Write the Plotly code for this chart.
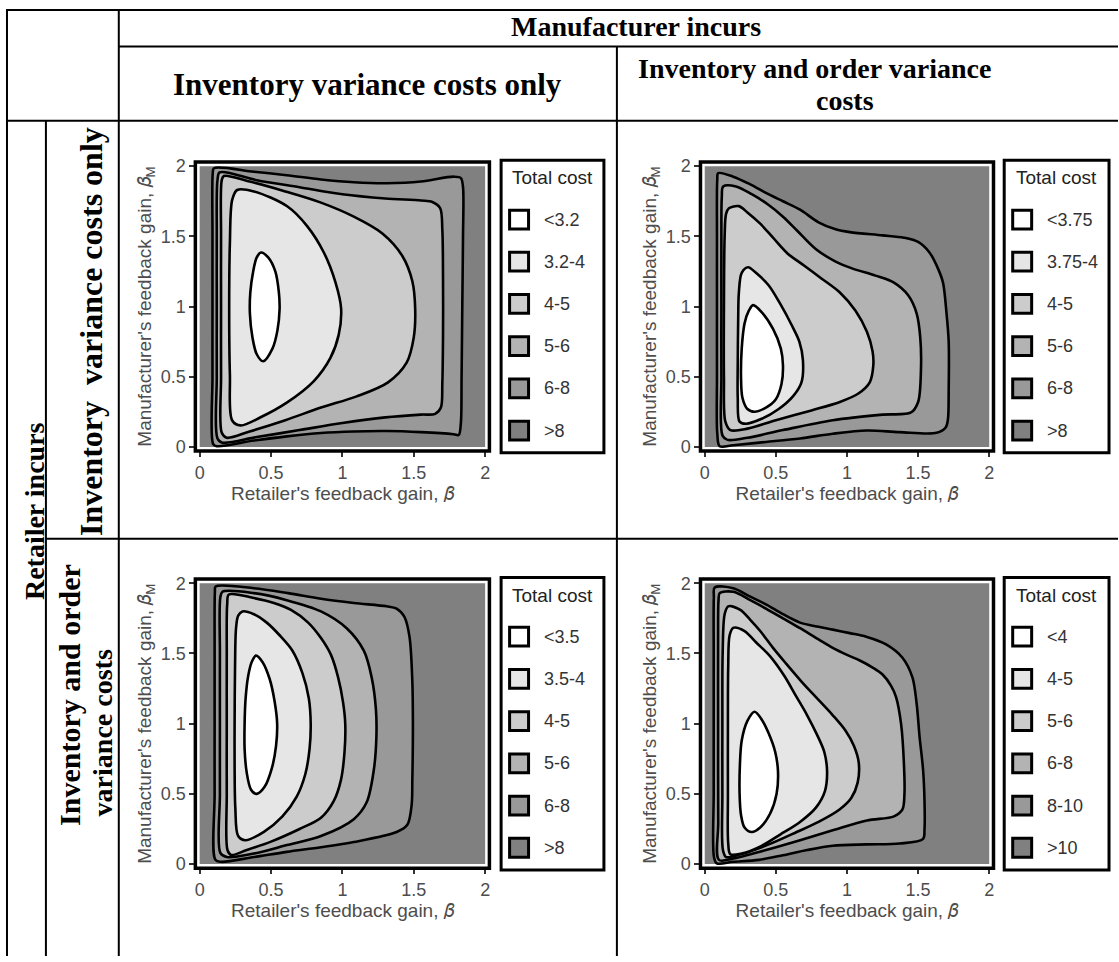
import plotly.graph_objects as go

W, H = 1119, 962

# ---------------- data ----------------
LEVEL_COLORS = ['#ffffff', '#e6e6e6', '#cccccc', '#b3b3b3', '#999999', '#808080']
TICKS = [0, 0.5, 1, 1.5, 2]
LEGEND_TITLE = 'Total cost'

# stable region of the two feedback gains (outermost cost band)
DOMAIN_X = [0, 2, 2, 0, 0]
DOMAIN_Y = [0, 0, 2, 2, 0]

P1_LABELS = ['&lt;3.2', '3.2-4', '4-5', '5-6', '6-8', '&gt;8']
P2_LABELS = ['&lt;3.75', '3.75-4', '4-5', '5-6', '6-8', '&gt;8']
P3_LABELS = ['&lt;3.5', '3.5-4', '4-5', '5-6', '6-8', '&gt;8']
P4_LABELS = ['&lt;4', '4-5', '5-6', '6-8', '8-10', '&gt;10']

# Panel 1 (retailer: inventory only, manufacturer: inventory only), contours innermost first
p1_l1_x = [0.43, 0.48, 0.53, 0.555, 0.56, 0.545, 0.51, 0.445, 0.40, 0.37, 0.352, 0.355, 0.375, 0.40, 0.43]
p1_l1_y = [1.385, 1.35, 1.25, 1.10, 0.98, 0.83, 0.70, 0.61, 0.66, 0.78, 0.95, 1.10, 1.25, 1.35, 1.385]
p1_l2_x = [0.263, 0.38, 0.613, 0.753, 0.87, 0.951, 0.991, 0.974, 0.916, 0.80, 0.613, 0.427, 0.287, 0.228, 0.212, 0.207, 0.212, 0.228, 0.263]
p1_l2_y = [1.83, 1.82, 1.714, 1.573, 1.385, 1.174, 0.986, 0.798, 0.634, 0.469, 0.317, 0.211, 0.153, 0.188, 0.516, 0.986, 1.455, 1.76, 1.83]
p1_l3_x = [0.17, 0.35, 0.60, 0.85, 1.08, 1.28, 1.42, 1.49, 1.51, 1.50, 1.45, 1.32, 1.10, 0.85, 0.60, 0.35, 0.19, 0.155, 0.15, 0.15, 0.15, 0.155, 0.17]
p1_l3_y = [1.93, 1.89, 1.82, 1.74, 1.64, 1.52, 1.36, 1.18, 0.98, 0.78, 0.60, 0.46, 0.36, 0.28, 0.19, 0.11, 0.065, 0.10, 0.50, 1.00, 1.50, 1.90, 1.93]
p1_l4_x = [0.14, 0.40, 0.70, 1.00, 1.30, 1.55, 1.63, 1.685, 1.70, 1.705, 1.705, 1.70, 1.69, 1.65, 1.55, 1.30, 1.00, 0.70, 0.40, 0.16, 0.125, 0.12, 0.12, 0.12, 0.125, 0.14]
p1_l4_y = [1.955, 1.90, 1.85, 1.80, 1.77, 1.755, 1.745, 1.70, 1.55, 1.20, 0.80, 0.45, 0.28, 0.235, 0.23, 0.21, 0.17, 0.12, 0.07, 0.03, 0.06, 0.50, 1.00, 1.50, 1.90, 1.955]
p1_l5_x = [0.10, 0.38, 0.61, 0.85, 1.08, 1.31, 1.55, 1.78, 1.83, 1.845, 1.845, 1.84, 1.835, 1.83, 1.815, 1.78, 1.55, 1.31, 1.08, 0.85, 0.61, 0.38, 0.12, 0.095, 0.09, 0.09, 0.09, 0.092, 0.10]
p1_l5_y = [1.985, 1.96, 1.935, 1.905, 1.885, 1.878, 1.89, 1.925, 1.915, 1.85, 1.50, 1.00, 0.50, 0.17, 0.085, 0.09, 0.105, 0.113, 0.11, 0.099, 0.075, 0.045, 0.005, 0.02, 0.50, 1.00, 1.50, 1.95, 1.985]

# Panel 2 (retailer: inventory only, manufacturer: inventory and order)
p2_l1_x = [0.34, 0.40, 0.48, 0.535, 0.55, 0.54, 0.50, 0.43, 0.35, 0.30, 0.265, 0.255, 0.26, 0.28, 0.31, 0.34]
p2_l1_y = [1.01, 0.96, 0.84, 0.70, 0.58, 0.45, 0.34, 0.28, 0.25, 0.27, 0.35, 0.50, 0.70, 0.88, 0.97, 1.01]
p2_l2_x = [0.305, 0.36, 0.45, 0.53, 0.61, 0.665, 0.69, 0.68, 0.62, 0.52, 0.40, 0.29, 0.245, 0.232, 0.232, 0.235, 0.24, 0.26, 0.305]
p2_l2_y = [1.28, 1.24, 1.15, 1.02, 0.87, 0.75, 0.62, 0.46, 0.36, 0.27, 0.20, 0.165, 0.18, 0.35, 0.60, 0.90, 1.10, 1.24, 1.28]
p2_l3_x = [0.17, 0.24, 0.30, 0.39, 0.48, 0.58, 0.70, 0.82, 0.95, 1.06, 1.14, 1.18, 1.185, 1.16, 1.08, 0.95, 0.75, 0.50, 0.30, 0.18, 0.145, 0.135, 0.135, 0.14, 0.15, 0.17]
p2_l3_y = [1.70, 1.715, 1.67, 1.59, 1.49, 1.38, 1.29, 1.20, 1.10, 0.97, 0.82, 0.68, 0.58, 0.46, 0.38, 0.32, 0.26, 0.19, 0.13, 0.12, 0.18, 0.50, 1.00, 1.50, 1.66, 1.70]
p2_l4_x = [0.13, 0.22, 0.33, 0.44, 0.55, 0.65, 0.78, 0.92, 1.04, 1.20, 1.33, 1.43, 1.49, 1.515, 1.52, 1.50, 1.45, 1.25, 0.90, 0.55, 0.30, 0.16, 0.125, 0.117, 0.117, 0.117, 0.12, 0.13]
p2_l4_y = [1.855, 1.855, 1.80, 1.73, 1.64, 1.54, 1.41, 1.32, 1.27, 1.22, 1.17, 1.08, 0.95, 0.78, 0.55, 0.32, 0.245, 0.23, 0.19, 0.12, 0.065, 0.05, 0.08, 0.50, 1.00, 1.50, 1.78, 1.855]
p2_l5_x = [0.095, 0.20, 0.32, 0.43, 0.55, 0.67, 0.80, 0.92, 1.02, 1.25, 1.40, 1.50, 1.58, 1.64, 1.675, 1.70, 1.715, 1.715, 1.71, 1.695, 1.63, 1.37, 1.14, 0.90, 0.67, 0.43, 0.20, 0.105, 0.088, 0.086, 0.086, 0.086, 0.088, 0.095]
p2_l5_y = [1.95, 1.925, 1.87, 1.81, 1.75, 1.69, 1.60, 1.55, 1.53, 1.507, 1.49, 1.46, 1.385, 1.27, 1.17, 0.95, 0.75, 0.40, 0.20, 0.14, 0.10, 0.105, 0.117, 0.094, 0.06, 0.035, 0.012, 0.005, 0.10, 0.50, 1.00, 1.50, 1.90, 1.95]

# Panel 3 (retailer: inventory and order, manufacturer: inventory only)
p3_l1_x = [0.395, 0.44, 0.49, 0.525, 0.543, 0.535, 0.505, 0.455, 0.40, 0.36, 0.33, 0.315, 0.315, 0.322, 0.34, 0.365, 0.395]
p3_l1_y = [1.485, 1.44, 1.32, 1.16, 1.00, 0.84, 0.68, 0.55, 0.50, 0.53, 0.65, 0.82, 1.00, 1.18, 1.34, 1.44, 1.485]
p3_l2_x = [0.30, 0.38, 0.47, 0.56, 0.65, 0.72, 0.765, 0.778, 0.77, 0.74, 0.68, 0.58, 0.45, 0.32, 0.27, 0.25, 0.245, 0.245, 0.248, 0.255, 0.27, 0.30]
p3_l2_y = [1.80, 1.78, 1.72, 1.63, 1.52, 1.36, 1.18, 1.00, 0.82, 0.64, 0.48, 0.34, 0.23, 0.17, 0.20, 0.40, 0.70, 1.00, 1.40, 1.68, 1.77, 1.80]
p3_l3_x = [0.205, 0.38, 0.52, 0.64, 0.76, 0.85, 0.92, 0.97, 1.005, 1.02, 1.015, 0.99, 0.94, 0.85, 0.70, 0.50, 0.33, 0.22, 0.195, 0.19, 0.19, 0.19, 0.193, 0.205]
p3_l3_y = [1.92, 1.895, 1.86, 1.81, 1.72, 1.61, 1.49, 1.33, 1.15, 1.00, 0.80, 0.60, 0.45, 0.33, 0.25, 0.16, 0.10, 0.065, 0.10, 0.50, 1.00, 1.50, 1.85, 1.92]
p3_l4_x = [0.16, 0.38, 0.61, 0.85, 1.03, 1.15, 1.205, 1.235, 1.238, 1.22, 1.17, 1.08, 0.85, 0.61, 0.38, 0.19, 0.145, 0.142, 0.142, 0.142, 0.145, 0.16]
p3_l4_y = [1.94, 1.93, 1.88, 1.80, 1.68, 1.52, 1.33, 1.10, 0.90, 0.67, 0.44, 0.32, 0.20, 0.135, 0.075, 0.05, 0.08, 0.50, 1.00, 1.50, 1.90, 1.94]
p3_l5_x = [0.112, 0.38, 0.62, 0.85, 1.08, 1.31, 1.38, 1.435, 1.47, 1.49, 1.494, 1.49, 1.485, 1.455, 1.38, 1.08, 0.85, 0.61, 0.38, 0.15, 0.11, 0.105, 0.105, 0.105, 0.107, 0.112]
p3_l5_y = [1.977, 1.965, 1.93, 1.89, 1.86, 1.836, 1.82, 1.76, 1.62, 1.30, 1.00, 0.60, 0.42, 0.28, 0.228, 0.157, 0.12, 0.087, 0.05, 0.016, 0.03, 0.50, 1.00, 1.50, 1.94, 1.977]

# Panel 4 (retailer: inventory and order, manufacturer: inventory and order)
p4_l1_x = [0.35, 0.40, 0.45, 0.495, 0.515, 0.505, 0.46, 0.39, 0.33, 0.28, 0.255, 0.245, 0.247, 0.26, 0.30, 0.35]
p4_l1_y = [1.085, 1.03, 0.93, 0.80, 0.66, 0.50, 0.36, 0.26, 0.228, 0.26, 0.35, 0.50, 0.70, 0.88, 1.02, 1.085]
p4_l2_x = [0.20, 0.28, 0.36, 0.46, 0.56, 0.64, 0.72, 0.79, 0.84, 0.86, 0.845, 0.78, 0.67, 0.53, 0.40, 0.26, 0.18, 0.165, 0.163, 0.163, 0.165, 0.175, 0.20]
p4_l2_y = [1.683, 1.66, 1.58, 1.48, 1.34, 1.20, 1.06, 0.92, 0.80, 0.66, 0.52, 0.40, 0.30, 0.21, 0.13, 0.075, 0.07, 0.15, 0.50, 1.00, 1.40, 1.63, 1.683]
p4_l3_x = [0.165, 0.25, 0.32, 0.39, 0.48, 0.57, 0.68, 0.79, 0.90, 0.99, 1.05, 1.083, 1.075, 1.03, 0.95, 0.80, 0.65, 0.45, 0.25, 0.15, 0.128, 0.124, 0.124, 0.126, 0.14, 0.165]
p4_l3_y = [1.836, 1.81, 1.74, 1.66, 1.54, 1.43, 1.30, 1.18, 1.06, 0.95, 0.84, 0.72, 0.58, 0.47, 0.39, 0.30, 0.23, 0.14, 0.07, 0.05, 0.10, 0.50, 1.00, 1.50, 1.78, 1.836]
p4_l4_x = [0.105, 0.20, 0.32, 0.43, 0.55, 0.67, 0.80, 0.90, 1.00, 1.09, 1.18, 1.25, 1.31, 1.345, 1.38, 1.40, 1.404, 1.39, 1.33, 1.14, 0.90, 0.67, 0.43, 0.20, 0.10, 0.095, 0.094, 0.094, 0.097, 0.105]
p4_l4_y = [1.93, 1.94, 1.88, 1.82, 1.75, 1.68, 1.60, 1.54, 1.49, 1.45, 1.40, 1.35, 1.27, 1.19, 1.00, 0.72, 0.50, 0.39, 0.34, 0.31, 0.24, 0.17, 0.10, 0.04, 0.03, 0.30, 1.00, 1.60, 1.88, 1.93]
p4_l5_x = [0.07, 0.20, 0.32, 0.43, 0.55, 0.67, 0.80, 0.90, 1.02, 1.135, 1.275, 1.39, 1.46, 1.49, 1.51, 1.535, 1.545, 1.545, 1.535, 1.37, 1.14, 0.90, 0.72, 0.55, 0.38, 0.20, 0.085, 0.065, 0.063, 0.063, 0.063, 0.064, 0.07]
p4_l5_y = [1.97, 1.965, 1.905, 1.85, 1.78, 1.72, 1.69, 1.67, 1.645, 1.62, 1.565, 1.47, 1.33, 1.14, 0.91, 0.67, 0.45, 0.25, 0.18, 0.146, 0.14, 0.13, 0.10, 0.063, 0.03, 0.016, 0.005, 0.05, 0.50, 1.00, 1.50, 1.90, 1.97]

# mathematical italic beta (no markup needed)
X_TITLE = "Retailer's feedback gain, \U0001D6FD"
Y_TITLE = "Manufacturer's feedback gain, \U0001D6FD<sub>M</sub>"

# ---------------- layout helpers ----------------
def px(p):
    return p / W


def py(p):
    return 1 - p / H


SANS = 'Liberation Sans, DejaVu Sans, Arial, sans-serif'
SERIF = 'Liberation Serif, Times New Roman, serif'
RANGE = [-0.03, 2.03]

panels = [
    dict(curves=[(p1_l1_x, p1_l1_y), (p1_l2_x, p1_l2_y), (p1_l3_x, p1_l3_y), (p1_l4_x, p1_l4_y), (p1_l5_x, p1_l5_y)],
         labels=P1_LABELS, x0=199, x2=485, y2=163, y0=447, box=(501, 157, 604, 453)),
    dict(curves=[(p2_l1_x, p2_l1_y), (p2_l2_x, p2_l2_y), (p2_l3_x, p2_l3_y), (p2_l4_x, p2_l4_y), (p2_l5_x, p2_l5_y)],
         labels=P2_LABELS, x0=705, x2=990, y2=163, y0=447, box=(1005, 157, 1110, 453)),
    dict(curves=[(p3_l1_x, p3_l1_y), (p3_l2_x, p3_l2_y), (p3_l3_x, p3_l3_y), (p3_l4_x, p3_l4_y), (p3_l5_x, p3_l5_y)],
         labels=P3_LABELS, x0=199, x2=485, y2=585, y0=869, box=(501, 579, 604, 875)),
    dict(curves=[(p4_l1_x, p4_l1_y), (p4_l2_x, p4_l2_y), (p4_l3_x, p4_l3_y), (p4_l4_x, p4_l4_y), (p4_l5_x, p4_l5_y)],
         labels=P4_LABELS, x0=705, x2=990, y2=585, y0=869, box=(1005, 579, 1110, 875)),
]

fig = go.Figure()
layout = dict(width=W, height=H, margin=dict(l=0, r=0, t=0, b=0),
              paper_bgcolor='white', plot_bgcolor='white', showlegend=False,
              font=dict(family=SANS, color='#4d4d4d', size=16))
shapes = []
annotations = []

ITEM_STEP = 42.7

for i, p in enumerate(panels):
    n = i + 1
    sfx = '' if n == 1 else str(n)
    xa, ya = 'x' + sfx, 'y' + sfx
    kx = (p['x2'] - p['x0']) / 2.0
    ky = (p['y0'] - p['y2']) / 2.0
    left = p['x0'] + RANGE[0] * kx
    right = p['x0'] + RANGE[1] * kx
    top = p['y0'] - RANGE[1] * ky
    bot = p['y0'] - RANGE[0] * ky
    layout['xaxis' + sfx] = dict(
        domain=[px(left), px(right)], range=RANGE, anchor=ya, tickvals=TICKS,
        ticks='outside', ticklen=5, tickwidth=1.5, tickcolor='#333333',
        tickfont=dict(family=SANS, size=18, color='#4d4d4d'),
        showgrid=False, zeroline=False, showline=False, fixedrange=True,
        title=dict(text=X_TITLE, font=dict(family=SANS, size=19, color='#4d4d4d'), standoff=2))
    layout['yaxis' + sfx] = dict(
        domain=[py(bot), py(top)], range=RANGE, anchor=xa, tickvals=TICKS,
        ticks='outside', ticklen=5, tickwidth=1.5, tickcolor='#333333',
        tickfont=dict(family=SANS, size=18, color='#4d4d4d'),
        showgrid=False, zeroline=False, showline=False, fixedrange=True,
        title=dict(text=Y_TITLE, font=dict(family=SANS, size=19, color='#4d4d4d'), standoff=4))

    # outermost band: whole stable region
    fig.add_trace(go.Scatter(x=DOMAIN_X, y=DOMAIN_Y, xaxis=xa, yaxis=ya, mode='lines',
                             fill='toself', fillcolor=LEVEL_COLORS[5], line=dict(width=0),
                             showlegend=False, hoverinfo='skip'))
    # nested contour regions, from outer to inner
    for j in range(4, -1, -1):
        cx, cy = p['curves'][j]
        fig.add_trace(go.Scatter(x=cx, y=cy, xaxis=xa, yaxis=ya, mode='lines',
                                 fill='toself', fillcolor=LEVEL_COLORS[j],
                                 line=dict(color='black', width=2.6, shape='spline', smoothing=0.9),
                                 name=p['labels'][j], showlegend=False, hoverinfo='skip'))

    # legend box, title, keys and labels
    bx0, by0, bx1, by1 = p['box']
    shapes.append(dict(type='rect', xref='paper', yref='paper', x0=px(bx0), x1=px(bx1),
                       y0=py(by1), y1=py(by0), line=dict(color='black', width=3),
                       fillcolor='white', layer='below'))
    annotations.append(dict(text=LEGEND_TITLE, x=px((bx0 + bx1) / 2.0), y=py(by0 + 18),
                            xref='paper', yref='paper', showarrow=False,
                            xanchor='center', yanchor='middle',
                            font=dict(family=SANS, size=19, color='#222222')))
    for j, lab in enumerate(p['labels']):
        cy_px = by0 + 60 + j * ITEM_STEP
        shapes.append(dict(type='rect', xref='paper', yref='paper',
                           x0=px(bx0 + 8.5), x1=px(bx0 + 27.5),
                           y0=py(cy_px + 9.5), y1=py(cy_px - 9.5),
                           fillcolor=LEVEL_COLORS[j], line=dict(color='black', width=3),
                           layer='above'))
        annotations.append(dict(text=lab, x=px(bx0 + 41), y=py(cy_px), xref='paper', yref='paper',
                                showarrow=False, xanchor='left', yanchor='middle',
                                font=dict(family=SANS, size=18, color='#333333')))

    # plot frame
    shapes.append(dict(type='rect', xref=xa + ' domain', yref=ya + ' domain', x0=0, y0=0, x1=1, y1=1,
                       line=dict(color='black', width=3.5), layer='above'))

# table rules
LW = 2


def hline(y, xa_, xb_):
    return dict(type='line', xref='paper', yref='paper', x0=px(xa_), x1=px(xb_), y0=py(y), y1=py(y),
                line=dict(color='black', width=LW))


def vline(x, ya_, yb_):
    return dict(type='line', xref='paper', yref='paper', x0=px(x), x1=px(x), y0=py(ya_), y1=py(yb_),
                line=dict(color='black', width=LW))


shapes += [hline(5, 5, 1119), hline(42, 118, 1119), hline(117, 5, 1119), hline(540, 45, 1119),
           vline(6, 4, 962), vline(45, 117, 962), vline(118, 4, 962), vline(617, 42, 962)]
layout['shapes'] = shapes


def note(text, x, y, size=28, angle=0):
    return dict(text=text, x=px(x), y=py(y), xref='paper', yref='paper',
                showarrow=False, xanchor='center', yanchor='middle', textangle=angle,
                font=dict(family=SERIF, size=size, color='black', weight='bold'))


annotations += [
    note('Manufacturer incurs', 636, 22),
    note('Inventory variance costs only', 367, 80, 31),
    note('Inventory and order variance', 815, 64),
    note('costs', 846, 97),
    note('Inventory  variance costs only', 90, 330, 32, -90),
    note('Inventory and order', 68, 698, 30, -90),
    note('variance costs', 102, 736, 28, -90),
    note('Retailer incurs', 33, 512, 28, -90),
]
layout['annotations'] = annotations

fig.update_layout(**layout)
fig.write_html('out.html', config={'displayModeBar': False},
               post_script="document.body.style.margin='0px';document.body.style.padding='0px';"
                           "document.documentElement.style.overflow='hidden';")
